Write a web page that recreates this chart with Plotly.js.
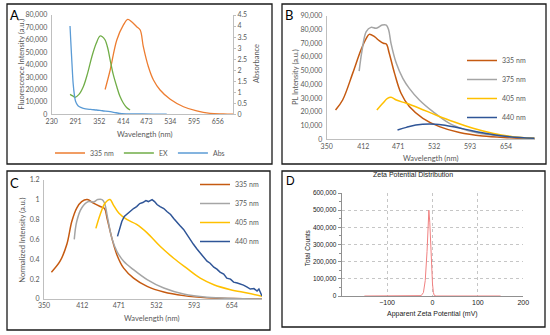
<!DOCTYPE html>
<html><head><meta charset="utf-8">
<script src="https://cdn.plot.ly/plotly-3.0.1.min.js"></script>
<style>html,body{margin:0;padding:0;background:#fff}#chart{width:550px;height:335px}</style>
</head><body><div id="chart"></div>
<script>
// ---- Panel A ----
const aTickLabels = [230, 291, 352, 414, 473, 534, 595, 656];
const a335X = [367,380,397,414,425,435,448,457,465,478,491,508,534,568,602,636,670,695];
const a335Y = [20000,35700,59900,72000,76500,74600,70600,67900,54500,38300,27600,19600,12100,6100,2700,800,300,100];
const aExX = [277,284,290,300,311,322,333,344,354,360,367,374,380,388,397,405,414,422,431];
const aExY = [16100,14800,13700,16000,22200,33000,46400,57000,63100,62500,59900,53000,43700,32000,22200,14500,8900,5500,3500];
const aAbsX = [277,279,282,285,288,291,295,300,311,330,345,360,380,395,410,450,490,525];
const aAbsY = [4.0,3.3,2.3,1.4,0.9,0.6,0.45,0.35,0.27,0.22,0.195,0.16,0.12,0.07,0.03,0.015,0.01,0.01];
// ---- Panel B ----
const bcTickLabels = [350, 412, 471, 532, 593, 654];
const b335X = [365,377,394,408,417,422,431,439,446,451,456,465,476,490,513,541,575,614,660,702];
const b335Y = [21300,28600,48000,65000,73500,76400,74700,71800,69900,69400,62600,48000,33500,23800,15300,9200,4900,2400,1200,500];
const b375X = [405,410,417,425,434,444,451,455,459,468,479,490,507,530,558,586,620,660,702];
const b375Y = [49700,65000,78400,81500,80800,83200,83200,79600,69900,55300,44400,37100,28600,20100,11600,6800,3600,1900,700];
const b405X = [435,445,453,459,468,485,507,535,564,598,631,665,702];
const b405Y = [21300,26200,29800,30600,28600,26200,22600,17700,12900,8000,4400,1900,700];
const b440X = [470,485,501,524,547,569,598,626,660,702];
const b440Y = [6800,8700,10400,11200,10400,8700,6100,3900,1900,700];
// ---- Panel C ----
const c335X = [362,376,387,395,403,411,420,430,441,448,452,460,468,479,495,517,544,576,614,657,703];
const c335Y = [0.27,0.38,0.55,0.78,0.915,0.98,1.0,0.965,0.93,0.91,0.815,0.61,0.446,0.31,0.21,0.127,0.07,0.034,0.012,0.004,0.0];
const c375X = [399,403,411,422,430,437,444,448,453,460,468,479,495,517,544,576,614,657,703];
const c375Y = [0.60,0.78,0.915,0.98,0.975,1.0,1.0,0.965,0.815,0.61,0.48,0.38,0.295,0.195,0.11,0.05,0.017,0.005,0.0];
const c405X = [434,441,449,457,462,471,484,500,517,538,560,581,603,625,652,679,703];
const c405Y = [0.71,0.85,0.965,1.0,0.95,0.865,0.80,0.75,0.665,0.53,0.41,0.31,0.21,0.144,0.094,0.06,0.027];
const c440X = [469,472,476,480,485,490,495,500,505,510,515,519,522,525,529,533,538,544,549,555,560,565,570,576,581,587,592,598,603,608,614,619,625,630,635,641,646,652,657,663,668,673,679,684,690,695,698,701,703];
const c440Y = [0.63,0.70,0.78,0.83,0.86,0.88,0.91,0.93,0.96,0.97,0.99,0.98,0.99,1.0,0.98,0.95,0.93,0.91,0.88,0.85,0.81,0.78,0.74,0.70,0.65,0.60,0.55,0.50,0.46,0.42,0.38,0.36,0.32,0.30,0.27,0.25,0.21,0.20,0.17,0.16,0.15,0.14,0.12,0.10,0.105,0.08,0.10,0.06,0.03];
// ---- Panel D ----
const dX = [-150,-30,-25,-20,-16,-12,-10,-8,-6,-4,-2,0,2,4,8,150];
const dY = [0,0,2000,20000,90000,260000,400000,500000,430000,300000,160000,70000,20000,3000,0,0];

const col335 = '#C55A11', col375 = '#A5A5A5', col405 = '#FFC000', col440 = '#2F5597';
const axBase = {showgrid:false, zeroline:false, showline:true, linecolor:'#BFBFBF', linewidth:1, ticks:'', tickfont:{size:7, color:'#595959'}, fixedrange:true};

const traces = [
  {x:a335X, y:a335Y, xaxis:'x', yaxis:'y', mode:'lines', name:'335 nm', line:{color:'#ED7D31', width:1.3, shape:'spline'}, legend:'legend'},
  {x:aExX, y:aExY, xaxis:'x', yaxis:'y', mode:'lines', name:'EX', line:{color:'#70AD47', width:1.3, shape:'spline'}, legend:'legend'},
  {x:aAbsX, y:aAbsY, xaxis:'x', yaxis:'y2', mode:'lines', name:'Abs', line:{color:'#5B9BD5', width:1.3, shape:'spline'}, legend:'legend'},
  {x:b335X, y:b335Y, xaxis:'x2', yaxis:'y3', mode:'lines', name:'335 nm', line:{color:col335, width:1.5, shape:'spline'}, legend:'legend2'},
  {x:b375X, y:b375Y, xaxis:'x2', yaxis:'y3', mode:'lines', name:'375 nm', line:{color:col375, width:1.5, shape:'spline'}, legend:'legend2'},
  {x:b405X, y:b405Y, xaxis:'x2', yaxis:'y3', mode:'lines', name:'405 nm', line:{color:col405, width:1.5, shape:'spline'}, legend:'legend2'},
  {x:b440X, y:b440Y, xaxis:'x2', yaxis:'y3', mode:'lines', name:'440 nm', line:{color:col440, width:1.5, shape:'spline'}, legend:'legend2'},
  {x:c335X, y:c335Y, xaxis:'x3', yaxis:'y4', mode:'lines', name:'335 nm', line:{color:col335, width:1.5, shape:'spline'}, legend:'legend3'},
  {x:c375X, y:c375Y, xaxis:'x3', yaxis:'y4', mode:'lines', name:'375 nm', line:{color:col375, width:1.5, shape:'spline'}, legend:'legend3'},
  {x:c405X, y:c405Y, xaxis:'x3', yaxis:'y4', mode:'lines', name:'405 nm', line:{color:col405, width:1.5, shape:'spline'}, legend:'legend3'},
  {x:c440X, y:c440Y, xaxis:'x3', yaxis:'y4', mode:'lines', name:'440 nm', line:{color:col440, width:1.5}, legend:'legend3'},
  {x:dX, y:dY, xaxis:'x4', yaxis:'y5', mode:'lines', name:'Zeta', line:{color:'#F08080', width:1}, showlegend:false}
];

function px(x){return x/550;} function py(y){return 1-y/335;}
function box(x0,y0,x1,y1){return {type:'rect', xref:'paper', yref:'paper', x0:px(x0), x1:px(x1), y0:py(y1), y1:py(y0), line:{color:'#1a1a1a', width:1.3}};}
function ann(text,x,y,opts){return Object.assign({text:text, xref:'paper', yref:'paper', x:px(x), y:py(y), showarrow:false, xanchor:'center', yanchor:'middle', font:{size:7.5, color:'#595959'}}, opts||{});}
const dFont = '"Liberation Sans", Arial, sans-serif';

const layout = {
  width:550, height:335, margin:{l:0,r:0,t:0,b:0}, paper_bgcolor:'#fff', plot_bgcolor:'rgba(0,0,0,0)',
  font:{family:'Lato, "Liberation Sans", sans-serif', size:7, color:'#595959'},
  showlegend:true,
  xaxis: Object.assign({}, axBase, {domain:[px(51.7), px(233)], range:[230,695], tickvals:aTickLabels, anchor:'y'}),
  yaxis: Object.assign({}, axBase, {domain:[py(114.3), py(15)], range:[0,80000], dtick:10000, tickformat:',d', anchor:'x', ticklabelstandoff:2}),
  yaxis2: Object.assign({}, axBase, {overlaying:'y', side:'right', anchor:'x', range:[0,4.5], dtick:0.5, ticks:'outside', ticklen:2, tickcolor:'#BFBFBF'}),
  xaxis2: Object.assign({}, axBase, {domain:[px(326.7), px(535)], range:[350,703], tickvals:bcTickLabels, anchor:'y3'}),
  yaxis3: Object.assign({}, axBase, {domain:[py(139.3), py(15.7)], range:[0,90000], dtick:10000, tickformat:',d', anchor:'x2', ticklabelstandoff:2}),
  xaxis3: Object.assign({}, axBase, {domain:[px(44), px(262)], range:[350,703], tickvals:bcTickLabels, anchor:'y4'}),
  yaxis4: Object.assign({}, axBase, {domain:[py(299), py(179.7)], range:[0,1.2], dtick:0.2, anchor:'x3', ticklabelstandoff:2}),
  xaxis4: {domain:[px(341.7), px(523.3)], range:[-200,200], tickvals:[-100,0,100,200], anchor:'y5', showline:true, linecolor:'#909090', linewidth:1, zeroline:false,
           showgrid:true, gridcolor:'#b8b8b8', griddash:'dot', gridwidth:0.8, ticks:'', tickfont:{size:7, color:'#222', family:dFont}, fixedrange:true},
  yaxis5: {domain:[py(296), py(193)], range:[0,600000], dtick:100000, tickformat:',d', anchor:'x4', showline:true, linecolor:'#909090', linewidth:1, zeroline:false,
           showgrid:true, gridcolor:'#b8b8b8', griddash:'dot', gridwidth:0.8, ticks:'outside', ticklen:3, tickcolor:'#909090',
           minor:{dtick:50000, ticks:'outside', ticklen:2, tickcolor:'#909090', showgrid:false},
           tickfont:{size:6.5, color:'#222', family:dFont}, fixedrange:true},
  legend: {orientation:'h', x:px(140), y:py(153), xanchor:'center', yanchor:'middle', bgcolor:'rgba(0,0,0,0)', font:{size:7, color:'#595959'}, itemwidth:30},
  legend2: {orientation:'v', x:px(462), y:py(89), xanchor:'left', yanchor:'middle', bgcolor:'rgba(0,0,0,0)', font:{size:7, color:'#595959'}, itemwidth:30, tracegroupgap:0},
  legend3: {orientation:'v', x:px(195), y:py(213), xanchor:'left', yanchor:'middle', bgcolor:'rgba(0,0,0,0)', font:{size:7, color:'#595959'}, itemwidth:30, tracegroupgap:0},
  shapes: [box(7,4,272,164), box(282,4,546,164), box(7,171,270,330), box(282,171,545,327)],
  annotations: [
    ann('A',14,15,{font:{size:13,color:'#000'}}),
    ann('B',289,15,{font:{size:13,color:'#000'}}),
    ann('C',14,183,{font:{size:13,color:'#000'}}),
    ann('D',290,181,{font:{size:12,color:'#000', family:dFont}}),
    ann('Fluorescence Intensity (a.u.)',21.7,64,{textangle:-90}),
    ann('Absorbance',257,64,{textangle:-90}),
    ann('Wavelength (nm)',145,134),
    ann('PL Intensity (a.u.)',295,77,{textangle:-90}),
    ann('Wavelength (nm)',431,158),
    ann('Normalized Intensity (a.u.)',21.7,240,{textangle:-90}),
    ann('Wavelength (nm)',152,318.5),
    ann('Zeta Potential Distribution',412.7,175,{font:{size:7,color:'#222',family:dFont}}),
    ann('Total Counts',307.3,248,{textangle:-90, font:{size:6.5,color:'#222',family:dFont}}),
    ann('Apparent Zeta Potential (mV)',432,314,{font:{size:7,color:'#222',family:dFont}})
  ]
};
Plotly.newPlot('chart', traces, layout, {displayModeBar:false, staticPlot:true});
</script></body></html>
